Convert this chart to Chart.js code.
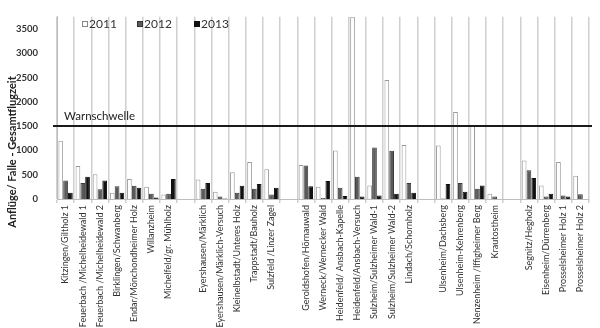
<!DOCTYPE html>
<html>
<head>
<meta charset="utf-8">
<script src="https://cdn.jsdelivr.net/npm/chart.js@4"></script>
<style>
html,body{margin:0;padding:0;background:#fff;}
#wrap{width:600px;height:328px;position:relative;}
</style>
</head>
<body>
<div id="wrap"><canvas id="c" width="600" height="328"></canvas></div>
<script>
const categories = [
  "Kitzingen/Giltholz 1","Feuerbach /Michelheidewald 1","Feuerbach /Michelheidewald 2","Birklingen/Schwanberg","Endar/Mönchondheimer Holz","Willanzheim","Michelfeld/gr. Mühlholz","",
  "Eyershausen/Märklich","Eyershausen/Märklich-Versuch","Kleinelbstadt/Unteres Holz","Trappstadt/Bauholz","Sulzfeld /Linzer Zagel","",
  "Geroldshofen/Hörnauwald","Werneck/Wernecker Wald","Heidenfeld/ Ansbach-Kapelle","Heidenfeld/Ansbach-Versuch","Sulzheim/Sulzheimer Wald-1","Sulzheim/Sulzheimer Wald-2","Lindach/Schornholz","",
  "Ulsenheim/Dachsberg","Ulsenheim-Kehrenberg","Nenzenheim /Iffigheimer Berg","Krautostheim","",
  "Segnitz/Hegholz","Eisenheim/Dürrenberg","Prosselsheimer Holz 1","Prosselsheimer Holz 2"
];
const values2011 = [1200,680,510,130,410,250,90,null, 400,150,550,760,610,null, 700,250,1000,3750,280,2450,1110,null, 1100,1790,1510,110,null, 790,280,760,480];
const values2012 = [380,330,200,260,270,110,110,null, 210,50,130,210,90,null, 690,20,230,460,1060,990,330,null, 10,330,210,50,null, 590,50,70,100];
const values2013 = [130,460,380,130,230,30,410,null, 330,10,270,310,230,null, 260,370,60,50,70,110,130,null, 310,150,280,0,null, 430,110,50,0];
const seriesNames = ["2011","2012","2013"];
const yTicks = [0,500,1000,1500,2000,2500,3000,3500];
const yMax = 3750;
const warnValue = 1500;
const warnLabel = "Warnschwelle";
const yTitle = "Anflüge/ Falle - Gesamtflugzeit";

const FONT = "Lato, 'Liberation Sans', sans-serif";

const overlay = {
  id: 'overlay',
  afterDatasetsDraw(chart) {
    const {ctx, chartArea, scales} = chart;
    const y = scales.y.getPixelForValue(warnValue);
    ctx.save();
    ctx.strokeStyle = '#1a1a1a';
    ctx.lineWidth = 2;
    ctx.beginPath();
    ctx.moveTo(chartArea.left - 4, y);
    ctx.lineTo(chartArea.right + 3, y);
    ctx.stroke();
    ctx.fillStyle = '#222';
    ctx.font = '11.5px ' + FONT;
    ctx.textBaseline = 'alphabetic';
    ctx.textAlign = 'left';
    ctx.fillText(warnLabel, 64, y - 6);
    // legend
    const items = [
      {t: seriesNames[0], x: 82, fill: '#ffffff', stroke: '#888'},
      {t: seriesNames[1], x: 137, fill: '#5a5a5a', stroke: '#333'},
      {t: seriesNames[2], x: 194, fill: '#111', stroke: '#111'}
    ];
    ctx.font = '12px ' + FONT;
    ctx.textBaseline = 'middle';
    items.forEach(it => {
      ctx.fillStyle = it.fill;
      ctx.fillRect(it.x, 21, 6, 6);
      ctx.strokeStyle = it.stroke;
      ctx.lineWidth = 1;
      ctx.strokeRect(it.x + 0.5, 21.5, 5, 5);
      ctx.fillStyle = '#333';
      ctx.fillText(it.t, it.x + 7, 24.5);
    });
    // y title
    ctx.translate(12.5, 152);
    ctx.rotate(-Math.PI / 2);
    ctx.textAlign = 'center';
    ctx.textBaseline = 'middle';
    ctx.font = 'bold 11px ' + FONT;
    ctx.fillStyle = '#222';
    ctx.fillText(yTitle, 0, 0);
    ctx.restore();
  }
};

new Chart(document.getElementById('c'), {
  type: 'bar',
  data: {
    labels: categories,
    datasets: [
      {label: seriesNames[0], data: values2011, backgroundColor: '#ffffff', borderColor: '#9a9a9a', borderWidth: 1},
      {label: seriesNames[1], data: values2012, backgroundColor: '#5a5a5a', borderColor: '#3a3a3a', borderWidth: 1},
      {label: seriesNames[2], data: values2013, backgroundColor: '#111111', borderColor: '#111111', borderWidth: 1}
    ]
  },
  options: {
    responsive: false,
    animation: false,
    layout: {padding: {top: 11, right: 11, left: 0, bottom: 0}},
    plugins: {legend: {display: false}, tooltip: {enabled: false}},
    datasets: {bar: {categoryPercentage: 0.84, barPercentage: 0.98}},
    scales: {
      x: {
        grid: {offset: true, color: '#cfcfcf', lineWidth: 1.5, tickLength: 4, drawOnChartArea: true},
        border: {color: '#bdbdbd'},
        ticks: {autoSkip: false, minRotation: 90, maxRotation: 90, padding: 2, color: '#333', font: {size: 9, family: FONT}},
        afterFit(s) { s.height = 129; }
      },
      y: {
        min: 0, max: yMax,
        grid: {display: false},
        border: {display: true, color: '#bdbdbd'},
        ticks: {padding: 11, color: '#333', font: {size: 9.5, weight: 'bold', family: FONT}, callback: v => String(v)},
        afterBuildTicks(s) { s.ticks = yTicks.map(v => ({value: v})); },
        afterFit(s) { s.width = 57; }
      }
    }
  },
  plugins: [overlay]
});
</script>
</body>
</html>
